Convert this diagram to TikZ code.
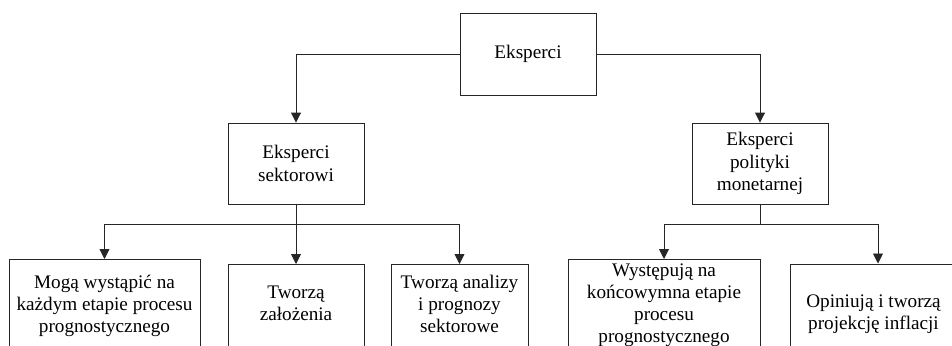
\documentclass[tikz,border=0pt]{standalone}
\usepackage{fontspec}
\setmainfont{Liberation Serif}
\usetikzlibrary{arrows.meta}
\begin{document}
\begin{tikzpicture}[x=1pt,y=-1pt,
  box/.style={draw=black!85, line width=0.9pt, rectangle, inner sep=0pt,
    align=center, font=\fontsize{19.2}{22.5}\selectfont},
  lowbox/.style={draw=black!85, line width=0.9pt, rectangle, anchor=north,
    inner sep=0pt, minimum height=120pt},
  txt/.style={anchor=base, align=center, inner sep=0pt,
    font=\fontsize{19.2}{22}\selectfont},
  link/.style={draw=black!85, line width=0.9pt},
  arrow/.style={link, -{Triangle[width=10pt,length=10pt]}}]

\useasboundingbox (0,0) rectangle (952,345);
\fill[white] (0,0) rectangle (952,345);
\clip (0,0) rectangle (952,345);

% upper levels
\node[box, minimum width=136pt, minimum height=82pt] (top) at (528,54) {Eksperci};
\node[box, minimum width=136pt, minimum height=81pt] (s) at (296,163.5) {Eksperci\\sektorowi};
\node[box, minimum width=136pt, minimum height=81pt] (m) at (760,163.5) {Eksperci\\polityki\\monetarnej};

% lower level (boxes run past the lower edge of the page)
\node[lowbox, minimum width=191pt] (b1) at (104.5,259) {};
\node[lowbox, minimum width=136pt] (b2) at (296,264) {};
\node[lowbox, minimum width=137pt] (b3) at (459.5,264) {};
\node[lowbox, minimum width=192pt] (b4) at (664,259) {};
\node[lowbox, minimum width=176pt] (b5) at (878,263.5) {};

% texts, placed by the baseline of their last line
\node[txt] (t1) at (104.5,332) {Mogą wystąpić na\\każdym etapie procesu\\prognostycznego};
\node[txt] (t2) at (296,320) {Tworzą\\założenia};
\node[txt] (t3) at (459.5,332) {Tworzą analizy\\i prognozy\\sektorowe};
\node[txt] (t4) at (664,342) {Występują na\\końcowymna etapie\\procesu\\prognostycznego};
\node[txt] (t5) at (873.5,329) {Opiniują i tworzą\\projekcję inflacji};

% connectors
\draw[arrow] (top.west) -| (s.north);
\draw[arrow] (top.east) -| (m.north);

\coordinate (js) at (296,224);
\coordinate (jm) at (760,224);
\draw[link] (s.south) -- (js);
\draw[arrow] (js) -| (b1.north);
\draw[arrow] (js) -- (b2.north);
\draw[arrow] (js) -| (b3.north);
\draw[link] (m.south) -- (jm);
\draw[arrow] (jm) -| (b4.north);
\draw[arrow] (jm) -| (b5.north);
\end{tikzpicture}
\end{document}
